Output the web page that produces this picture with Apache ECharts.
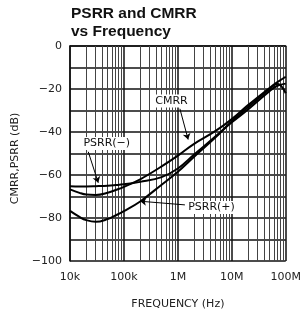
<!DOCTYPE html>
<html lang="en">
<head>
<meta charset="UTF-8">
<title>PSRR and CMRR vs Frequency</title>
<script src="https://cdn.jsdelivr.net/npm/echarts@6/dist/echarts.min.js"></script>
<style>
    html, body { margin: 0; padding: 0; background: #fff; }
    #main { width: 304px; height: 315px; }
</style>
</head>
<body>
<div id="main"></div>
<script>
    // frequency points (Hz) shared by all three curves
    var freq = [1e4, 1.5e4, 2e4, 3e4, 5e4, 7e4, 1e5, 2e5, 5e5, 1e6, 2e6, 5e6, 1e7, 2e7, 5e7, 7e7, 1e8];
    // values (dB)
    var cmrr    = [-66.7, -68.3, -69.1, -69.3, -68.3, -67, -65.5, -62, -56, -51, -45.5, -39.5, -34, -27.5, -19.5, -16.8, -14.3];
    var psrrNeg = [-65.2, -65.3, -65.3, -65.2, -65, -64.7, -64.3, -63.2, -61, -57, -50.5, -42, -35.5, -29.5, -21, -18.5, -17.5];
    var psrrPos = [-76.7, -79.5, -81, -81.8, -80.5, -78.8, -76.8, -72.3, -64.5, -58.5, -51.5, -42.5, -35, -28.5, -20, -17.5, -22];

    // axis ticks
    var decades = [1e4, 1e5, 1e6, 1e7];
    var minorSteps = [2, 3, 4, 5, 6, 7, 8, 9];
    var xTickLabels = { 10000: '10k', 100000: '100k', 1000000: '1M', 10000000: '10M', 100000000: '100M' };

    // annotations: [text, label pos, arrow start, arrow end] in data coords
    var notes = [
        ['CMRR',    [7.6e5, -25.6], [1.09e6, -29.2], [1.55e6, -43.5]],
        ['PSRR(\u2212)', [4.8e4, -45.3], [2.18e4, -49.2], [3.34e4, -63.6]],
        ['PSRR(+)', [4.2e6, -75.1], [1.35e6, -73.9], [2.0e5, -72.2]]
    ];

    function pairs(ys) {
        var out = [];
        for (var i = 0; i < freq.length; i++) out.push([freq[i], ys[i]]);
        return out;
    }

    var minorLines = [];
    for (var d = 0; d < decades.length; d++) {
        for (var m = 0; m < minorSteps.length; m++) {
            minorLines.push({ xAxis: decades[d] * minorSteps[m] });
        }
    }

    var arrows = notes.map(function (n) {
        return [{ coord: n[2] }, { coord: n[3] }];
    });

    var font = 'DejaVu Sans';
    var myChart = echarts.init(document.getElementById('main'));
    var option = {
        animation: false,
        title: {
            text: 'PSRR and CMRR\nvs Frequency',
            left: 66,
            top: 0,
            textStyle: {
                fontFamily: 'Liberation Sans',
                fontWeight: 'bold',
                fontSize: 15.5,
                lineHeight: 17.5,
                color: '#111'
            }
        },
        grid: { left: 70, right: 18, top: 46, bottom: 54 },
        xAxis: {
            type: 'log',
            logBase: 10,
            min: 1e4,
            max: 1e8,
            name: 'FREQUENCY (Hz)',
            nameLocation: 'middle',
            nameGap: 38,
            nameTextStyle: { fontFamily: font, fontSize: 11, color: '#222' },
            axisLine: { show: true, lineStyle: { color: '#111', width: 1.5 } },
            axisTick: { show: false },
            axisLabel: {
                margin: 11,
                fontFamily: font,
                fontSize: 11,
                color: '#222',
                formatter: function (v) { return xTickLabels[Math.round(v)] || ''; }
            },
            splitLine: { show: true, lineStyle: { color: '#111', width: 1.5 } }
        },
        yAxis: {
            type: 'value',
            min: -100,
            max: 0,
            interval: 10,
            name: 'CMRR,PSRR (dB)',
            nameLocation: 'middle',
            nameGap: 44,
            nameTextStyle: { fontFamily: font, fontSize: 11, color: '#222', padding: [0, 10, 0, 0] },
            axisLine: { show: true, lineStyle: { color: '#111', width: 1.5 } },
            axisTick: { show: false },
            axisLabel: {
                margin: 8,
                fontFamily: font,
                fontSize: 11,
                color: '#222',
                formatter: function (v) {
                    if (v % 20 !== 0) return '';
                    return v < 0 ? '\u2212' + Math.abs(v) : String(v);
                }
            },
            splitLine: { show: true, lineStyle: { color: '#111', width: 1.5 } }
        },
        series: [
            {
                // minor vertical grid lines
                type: 'line',
                data: [],
                silent: true,
                markLine: {
                    silent: true,
                    z: 1,
                    symbol: 'none',
                    label: { show: false },
                    lineStyle: { color: '#444', width: 1, type: 'solid' },
                    data: minorLines
                }
            },
            {
                name: 'CMRR',
                type: 'line',
                data: pairs(cmrr),
                smooth: 0.4,
                showSymbol: false,
                z: 3,
                lineStyle: { color: '#000', width: 2 },
                markLine: {
                    silent: true,
                    symbol: ['none', 'arrow'],
                    symbolSize: 6,
                    label: { show: false },
                    lineStyle: { color: '#000', width: 1, type: 'solid' },
                    data: arrows
                }
            },
            {
                name: 'PSRR(-)',
                type: 'line',
                data: pairs(psrrNeg),
                smooth: 0.4,
                showSymbol: false,
                z: 3,
                lineStyle: { color: '#000', width: 2 }
            },
            {
                name: 'PSRR(+)',
                type: 'line',
                data: pairs(psrrPos),
                smooth: 0.4,
                showSymbol: false,
                z: 3,
                lineStyle: { color: '#000', width: 2 }
            }
        ]
    };
    myChart.setOption(option);

    // curve labels placed from data coords
    var texts = notes.map(function (n) {
        var p = myChart.convertToPixel({ gridIndex: 0 }, n[1]);
        return {
            type: 'text',
            x: p[0],
            y: p[1],
            z: 10,
            style: {
                text: n[0],
                fontFamily: font,
                fontSize: 11,
                fill: '#111',
                align: 'center',
                verticalAlign: 'middle',
                backgroundColor: '#fff',
                padding: [1, 2]
            }
        };
    });
    myChart.setOption({ graphic: texts });
</script>
</body>
</html>
